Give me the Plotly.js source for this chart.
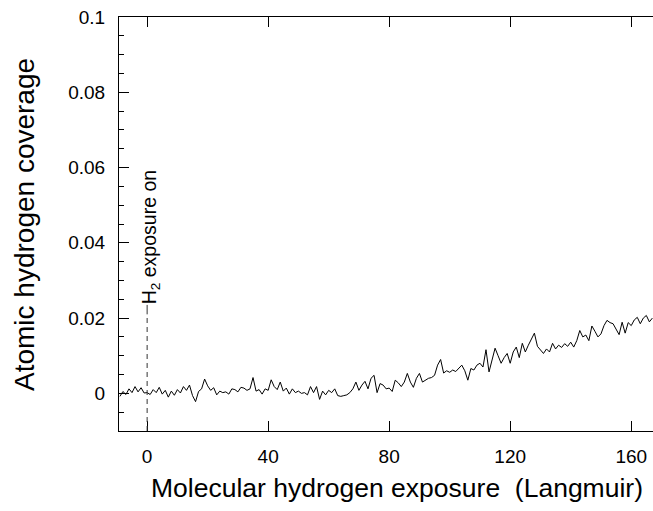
<!DOCTYPE html>
<html>
<head>
<meta charset="utf-8">
<script src="https://cdn.plot.ly/plotly-3.0.1.min.js"></script>
<style>html,body{margin:0;padding:0;background:#fff;}#chart{width:653px;height:511px;}</style>
</head>
<body>
<div id="chart"></div>
<script>
// Exposure (Langmuir), step 1 from -9 to 167
const exposure = [];
for (let e = -9; e <= 167; e++) exposure.push(e);

const coverage = [
  -0.0008, 0.0005, -0.0003, 0.0012, 0.0002, 0.0018, 0.0004, 0.0015, 0.0001, 0.0002,
  -0.0003, 0.0010, 0.0002, 0.0016, -0.0002, 0.0008, -0.0010, 0.0006, -0.0005, 0.0010,
  0.0001, 0.0018, 0.0008, 0.0022, -0.0006, -0.0022, 0.0005, 0.0012, 0.0038, 0.0020,
  0.0008, 0.0015, -0.0004, 0.0006, 0.0002, 0.0004, -0.0002, 0.0012, 0.0010, 0.0004,
  0.0016, 0.0014, 0.0008, 0.0012, 0.0042, 0.0006, 0.0010, -0.0002, 0.0012, 0.0008,
  0.0036, 0.0018, 0.0010, 0.0030, 0.0006, 0.0014, -0.0002, 0.0012, 0.0002, 0.0006,
  0.0000, 0.0002, -0.0004, 0.0018, 0.0002, 0.0018, -0.0016, 0.0006, -0.0004, 0.0008,
  0.0002, 0.0012, -0.0006, -0.0008, -0.0006, -0.0004, 0.0002, 0.0012, 0.0030, 0.0008,
  0.0022, 0.0032, 0.0012, 0.0040, 0.0048, 0.0002, 0.0026, 0.0022, 0.0012, 0.0014,
  0.0005, 0.0035, 0.0028, 0.0018, 0.0030, 0.0053, 0.0030, 0.0016, 0.0040, 0.0053,
  0.0030, 0.0036, 0.0040, 0.0042, 0.0048, 0.0075, 0.0090, 0.0054, 0.0060, 0.0056,
  0.0062, 0.0058, 0.0066, 0.0075, 0.0060, 0.0035, 0.0066, 0.0062, 0.0075, 0.0080,
  0.0070, 0.0116, 0.0057, 0.0090, 0.0120, 0.0100, 0.0080, 0.0095, 0.0106, 0.0080,
  0.0110, 0.0123, 0.0095, 0.0133, 0.0110, 0.0128, 0.0146, 0.0160, 0.0125, 0.0115,
  0.0106, 0.0118, 0.0110, 0.0133, 0.0118, 0.0128, 0.0122, 0.0132, 0.0125, 0.0136,
  0.0123, 0.0140, 0.0167, 0.0150, 0.0155, 0.0140, 0.0179, 0.0165, 0.0150, 0.0158,
  0.0180, 0.0194, 0.0188, 0.0185, 0.0170, 0.0156, 0.0189, 0.0160, 0.0188, 0.0180,
  0.0195, 0.0202, 0.0185, 0.0200, 0.0207, 0.0190, 0.0200
];

const xTickVals = [0, 40, 80, 120, 160];
const xTickText = ["0", "40", "80", "120", "160"];
const yTickVals = [0, 0.02, 0.04, 0.06, 0.08, 0.1];
const yTickText = ["0", "0.02", "0.04", "0.06", "0.08", "0.1"];

const FONT = "Liberation Sans, Arial, sans-serif";

const trace = {
  x: exposure, y: coverage, type: "scatter", mode: "lines",
  line: {color: "#000", width: 1}, hoverinfo: "skip"
};

const layout = {
  width: 653, height: 511,
  margin: {l: 119, r: 0, t: 17, b: 80},
  paper_bgcolor: "#fff", plot_bgcolor: "#fff",
  showlegend: false,
  font: {family: FONT, color: "#000"},
  xaxis: {
    range: [-9.3, 167.2], showgrid: false, zeroline: false,
    showline: true, linecolor: "#000", linewidth: 1, mirror: "ticks",
    ticks: "inside", ticklen: 10, tickwidth: 1, tickcolor: "#000",
    tickvals: xTickVals, ticktext: xTickText,
    tickfont: {size: 19, family: FONT, color: "#000"},
    ticklabelstandoff: 8
  },
  yaxis: {
    range: [-0.01, 0.1], showgrid: false, zeroline: false,
    showline: true, linecolor: "#000", linewidth: 1, mirror: false,
    ticks: "inside", ticklen: 10, tickwidth: 1, tickcolor: "#000",
    tickvals: yTickVals, ticktext: yTickText,
    tickfont: {size: 19, family: FONT, color: "#000"},
    ticklabelstandoff: 9,
    minor: {dtick: 0.005, tick0: 0, ticks: "inside", ticklen: 5, tickwidth: 1, tickcolor: "#000", showgrid: false}
  },
  shapes: [
    {type: "line", xref: "x", yref: "y", x0: 0, x1: 0, y0: -0.01, y1: 0.021,
     line: {color: "#333", width: 1, dash: "5px,4px"}},
    {type: "line", xref: "x", yref: "y", x0: 0, x1: 0, y0: 0.021, y1: 0.0235,
     line: {color: "#333", width: 1}}
  ],
  annotations: [
    {text: "H<sub>2</sub> exposure on", xref: "x", yref: "y", x: 1, y: 0.0415,
     textangle: -90, showarrow: false, xanchor: "center", yanchor: "middle",
     font: {size: 19.5, family: FONT, color: "#000"}},
    {text: "Molecular hydrogen exposure  (Langmuir)", xref: "paper", yref: "paper",
     x: 0.5206, y: -0.1375, showarrow: false, xanchor: "center", yanchor: "middle",
     font: {size: 26.5, family: FONT, color: "#000"}},
    {text: "Atomic hydrogen coverage", xref: "paper", yref: "paper",
     x: -0.176, y: 0.4976, textangle: -90, showarrow: false, xanchor: "center", yanchor: "middle",
     font: {size: 28, family: FONT, color: "#000"}}
  ]
};

Plotly.newPlot("chart", [trace], layout, {displayModeBar: false, staticPlot: true});
</script>
</body>
</html>
